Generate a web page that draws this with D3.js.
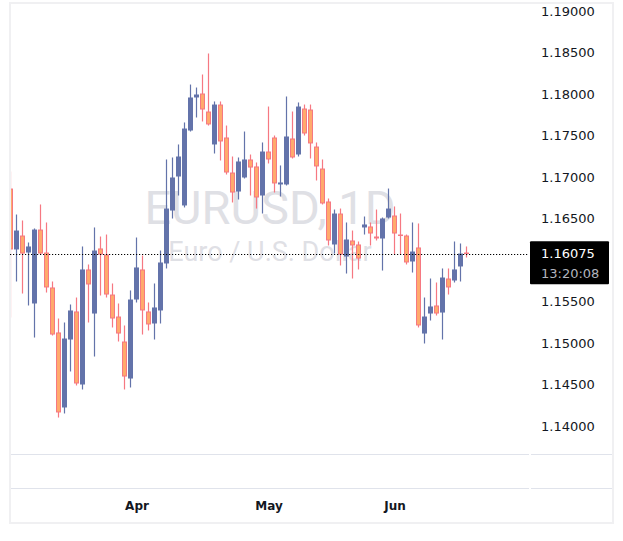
<!DOCTYPE html>
<html>
<head>
<meta charset="utf-8">
<script src="https://cdn.jsdelivr.net/npm/d3@7"></script>
<style>
  html, body { margin: 0; padding: 0; background: #fff; }
  svg { display: block; }
  .price-axis text { font-family: "DejaVu Sans", sans-serif; font-size: 13px; fill: #131722; }
  .time-axis text { font-family: "DejaVu Sans", sans-serif; font-size: 12px; font-weight: bold; fill: #131722; }
</style>
</head>
<body>
<svg id="chart" width="623" height="541"></svg>
<script>
// daily bars, weekdays from 3 Mar 2026 to 17 Jun 2026
const FIRST_DAY = new Date(2026, 2, 3);
const LAST_DAY = new Date(2026, 5, 17);

const opens = [
  1.16861, 1.16127, 1.16295, 1.16090, 1.15476, 1.16367, 1.16090, 1.15669, 1.15127, 1.14223,
  1.15042, 1.15380, 1.14500, 1.15886, 1.15355, 1.16139, 1.16066, 1.15584, 1.15319, 1.15018,
  1.14572, 1.15524, 1.15886, 1.15380, 1.15235, 1.15392, 1.15958, 1.16596, 1.17006, 1.16657,
  1.17560, 1.17958, 1.18006, 1.17789, 1.17392, 1.17873, 1.17476, 1.17054, 1.16825, 1.16994,
  1.17211, 1.17127, 1.16777, 1.17307, 1.17476, 1.16910, 1.16910, 1.17464, 1.17271, 1.17825,
  1.17813, 1.17367, 1.17102, 1.16705, 1.16187, 1.16560, 1.16042, 1.16235, 1.16187, 1.16392,
  1.16404, 1.16283, 1.16259, 1.16512, 1.16536, 1.16307, 1.16295, 1.15982, 1.16151, 1.15114,
  1.15355, 1.15452, 1.15367, 1.15777, 1.15753, 1.15922, 1.16090,
];
const highs = [
  1.17066, 1.16548, 1.16476, 1.16211, 1.16380, 1.16669, 1.16452, 1.15741, 1.15295, 1.15247,
  1.15464, 1.15548, 1.16163, 1.15946, 1.16392, 1.16283, 1.16307, 1.15717, 1.15476, 1.15211,
  1.15633, 1.16271, 1.16054, 1.15488, 1.15717, 1.16114, 1.17211, 1.17235, 1.17392, 1.17657,
  1.18114, 1.18078, 1.18235, 1.18488, 1.17910, 1.17910, 1.17620, 1.17247, 1.17235, 1.17548,
  1.17271, 1.17175, 1.17416, 1.17849, 1.17500, 1.17139, 1.17970, 1.17789, 1.17898, 1.17873,
  1.17873, 1.17416, 1.17211, 1.16741, 1.16608, 1.16620, 1.16452, 1.16355, 1.16223, 1.16524,
  1.16452, 1.16608, 1.16512, 1.16861, 1.16645, 1.16560, 1.16307, 1.16452, 1.16440, 1.15548,
  1.15777, 1.15729, 1.15898, 1.15898, 1.16223, 1.16199, 1.16163,
];
const lows = [
  1.15307, 1.15741, 1.15596, 1.15452, 1.15066, 1.16066, 1.15608, 1.15090, 1.14102, 1.14151,
  1.14657, 1.14488, 1.14440, 1.15247, 1.14837, 1.15572, 1.15548, 1.15187, 1.15018, 1.14440,
  1.14464, 1.15488, 1.15102, 1.15151, 1.15042, 1.15235, 1.15898, 1.16500, 1.16777, 1.16633,
  1.17548, 1.17717, 1.17669, 1.17620, 1.17283, 1.17199, 1.17030, 1.16693, 1.16729, 1.16982,
  1.16777, 1.16620, 1.16560, 1.17163, 1.16813, 1.16765, 1.16898, 1.17223, 1.17247, 1.17500,
  1.17223, 1.16958, 1.16669, 1.16175, 1.16078, 1.15934, 1.15837, 1.15777, 1.15886, 1.16307,
  1.16175, 1.16235, 1.15873, 1.16500, 1.16066, 1.16066, 1.15946, 1.15849, 1.15187, 1.14994,
  1.15271, 1.15331, 1.15042, 1.15584, 1.15729, 1.15741, 1.16030,
];
const closes = [
  1.16127, 1.16355, 1.16078, 1.16163, 1.16367, 1.16078, 1.15669, 1.15102, 1.14163, 1.15054,
  1.15392, 1.14512, 1.15886, 1.15705, 1.16114, 1.16066, 1.15584, 1.15295, 1.15114, 1.14596,
  1.15524, 1.15910, 1.15392, 1.15223, 1.15428, 1.15970, 1.16620, 1.16994, 1.17247, 1.17584,
  1.17958, 1.17994, 1.17813, 1.17633, 1.17873, 1.17428, 1.17054, 1.16813, 1.17187, 1.17211,
  1.17114, 1.16753, 1.17307, 1.17211, 1.16922, 1.16934, 1.17488, 1.17235, 1.17849, 1.17524,
  1.17404, 1.17127, 1.16681, 1.16235, 1.16560, 1.16066, 1.16247, 1.16175, 1.16018, 1.16428,
  1.16319, 1.16259, 1.16500, 1.16620, 1.16319, 1.16295, 1.15970, 1.16102, 1.15211, 1.15319,
  1.15440, 1.15355, 1.15789, 1.15669, 1.15886, 1.16078, 1.16075,
];

const priceTicks = [1.19, 1.185, 1.18, 1.175, 1.17, 1.165, 1.155, 1.15, 1.145, 1.14];
const lastPrice = 1.16075;
const countdown = "13:20:08";
const symbolTitle = "EURUSD, 1D";
const symbolName = "Euro / U.S. Dollar";

const BULL = "#6373aa";
const BEAR_FILL = "#ffaa6c";
const BEAR_LINE = "#f67882";
const PANE_LINE = "#e0e3eb";

const dates = d3.timeDay
  .range(FIRST_DAY, d3.timeDay.offset(LAST_DAY, 1))
  .filter((d) => d.getDay() % 6 !== 0);

const bars = dates.map((date, i) => ({
  i,
  date,
  open: opens[i],
  high: highs[i],
  low: lows[i],
  close: closes[i],
}));

const plot = { left: 11, right: 529, top: 4, bottom: 454 };

const svg = d3.select("#chart");

const x = d3.scaleLinear().domain([0, 87]).range([10.5, 532.5]);
const y = d3.scaleLinear().domain([1.14, 1.19]).range([426, 11]);

// outer frame
svg
  .append("rect")
  .attr("x", 10)
  .attr("y", 3)
  .attr("width", 603)
  .attr("height", 520)
  .attr("fill", "#fff")
  .attr("stroke", "#f0f0f2")
  .attr("stroke-width", 2);

svg
  .append("clipPath")
  .attr("id", "plot-clip")
  .append("rect")
  .attr("x", plot.left)
  .attr("y", plot.top)
  .attr("width", plot.right - plot.left)
  .attr("height", plot.bottom - plot.top);

// watermark
const cx = (plot.left + plot.right) / 2;
svg
  .append("text")
  .attr("x", cx)
  .attr("y", 224)
  .attr("text-anchor", "middle")
  .attr("font-family", "Roboto, sans-serif")
  .attr("font-size", 47)
  .attr("fill", "#dfe0e5")
  .text(symbolTitle);
svg
  .append("text")
  .attr("x", cx)
  .attr("y", 261)
  .attr("text-anchor", "middle")
  .attr("font-family", "Roboto, sans-serif")
  .attr("font-size", 27)
  .attr("fill", "#dfe0e5")
  .text(symbolName);

// pane separators
[454.5, 488.5].forEach((yy) => {
  svg
    .append("line")
    .attr("x1", 11)
    .attr("x2", 529)
    .attr("y1", yy)
    .attr("y2", yy)
    .attr("stroke", PANE_LINE);
  svg
    .append("line")
    .attr("x1", 531)
    .attr("x2", 612)
    .attr("y1", yy)
    .attr("y2", yy)
    .attr("stroke", PANE_LINE);
});

// candles
const candles = svg
  .append("g")
  .attr("clip-path", "url(#plot-clip)")
  .selectAll("g")
  .data(bars)
  .join("g");

candles
  .append("rect")
  .attr("x", (d) => x(d.i) - 0.6)
  .attr("width", 1.2)
  .attr("y", (d) => y(d.high))
  .attr("height", (d) => y(d.low) - y(d.high))
  .attr("fill", (d) => (d.close >= d.open ? BULL : BEAR_LINE));

candles
  .filter((d) => d.close >= d.open)
  .append("rect")
  .attr("x", (d) => x(d.i) - 2.5)
  .attr("width", 5)
  .attr("y", (d) => y(d.close))
  .attr("height", (d) => Math.max(1, y(d.open) - y(d.close)))
  .attr("fill", BULL);

candles
  .filter((d) => d.close < d.open)
  .append("rect")
  .attr("x", (d) => x(d.i) - 2)
  .attr("width", 4)
  .attr("y", (d) => y(d.open) + 0.5)
  .attr("height", (d) => Math.max(0.5, y(d.close) - y(d.open) - 1))
  .attr("fill", BEAR_FILL)
  .attr("stroke", BEAR_LINE)
  .attr("stroke-width", 1);

// last price line
svg
  .append("line")
  .attr("x1", 10)
  .attr("x2", 529)
  .attr("y1", Math.round(y(lastPrice)) + 0.5)
  .attr("y2", Math.round(y(lastPrice)) + 0.5)
  .attr("stroke", "#000")
  .attr("stroke-width", 1.2)
  .attr("stroke-dasharray", "1.2,1.8");

// price axis
const priceAxis = svg
  .append("g")
  .attr("class", "price-axis")
  .attr("transform", "translate(531,0)")
  .call(
    d3
      .axisRight(y)
      .tickValues(priceTicks)
      .tickFormat(d3.format(".5f"))
      .tickSize(0)
      .tickPadding(10),
  );
priceAxis.select(".domain").remove();

// last price label
const ly = y(lastPrice);
svg
  .append("rect")
  .attr("x", 530)
  .attr("y", ly - 12.5)
  .attr("width", 79)
  .attr("height", 43)
  .attr("rx", 1)
  .attr("fill", "#000");
svg
  .append("text")
  .attr("x", 541)
  .attr("y", ly + 4.5)
  .attr("font-family", "DejaVu Sans, sans-serif")
  .attr("font-size", 13)
  .attr("fill", "#fff")
  .text(d3.format(".5f")(lastPrice));
svg
  .append("text")
  .attr("x", 541)
  .attr("y", ly + 24.5)
  .attr("font-family", "DejaVu Sans, sans-serif")
  .attr("font-size", 13)
  .attr("fill", "#b2b5be")
  .text(countdown);

// time axis: first trading day of each month
const monthStarts = bars
  .filter((d, i) => i > 0 && d.date.getMonth() !== bars[i - 1].date.getMonth())
  .map((d) => d.i);

const timeAxis = svg
  .append("g")
  .attr("class", "time-axis")
  .attr("transform", "translate(0,488)")
  .call(
    d3
      .axisBottom(x)
      .tickValues(monthStarts)
      .tickFormat((i) => d3.timeFormat("%b")(dates[i]))
      .tickSize(0)
      .tickPadding(13),
  );
timeAxis.select(".domain").remove();
</script>
</body>
</html>
